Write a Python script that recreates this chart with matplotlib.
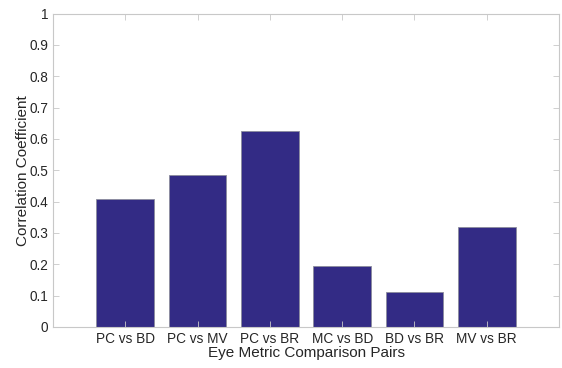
import matplotlib
matplotlib.use("Agg")
import matplotlib.pyplot as plt

categories = ["PC vs BD", "PC vs MV", "PC vs BR", "MC vs BD", "BD vs BR", "MV vs BR"]
values = [0.408, 0.484, 0.624, 0.195, 0.111, 0.319]

plt.rcParams['font.family'] = ['Liberation Sans', 'DejaVu Sans']

fig = plt.figure(figsize=(5.62, 3.68), dpi=100)
ax = fig.add_axes([53/562, 1-327/368, 506/562, (327-13.5)/368])
x = list(range(1, len(categories)+1))
ax.bar(x, values, width=0.8, color='#332b85', edgecolor='#8c8c9c', linewidth=0.6)
ax.set_xlim(0, 7)
ax.set_ylim(0, 1)
ax.set_xticks(x)
ax.set_xticklabels(categories)
ax.set_yticks([i/10 for i in range(11)])
ax.set_yticklabels(['0'] + [f'{i/10:.1f}' for i in range(1, 10)] + ['1'])
for s in ax.spines.values():
    s.set_color('#c8c8c8')
    s.set_linewidth(0.8)
ax.tick_params(direction='in', length=4, width=0.6, color='#c8c8c8', labelsize=9.8,
               labelcolor='#262626', top=True, right=True)
ax.set_xlabel('Eye Metric Comparison Pairs', fontsize=11, color='#262626', labelpad=0)
ax.set_ylabel('Correlation Coefficient', fontsize=11, color='#262626', labelpad=-0.5)
fig.savefig('out.png', dpi=100)
